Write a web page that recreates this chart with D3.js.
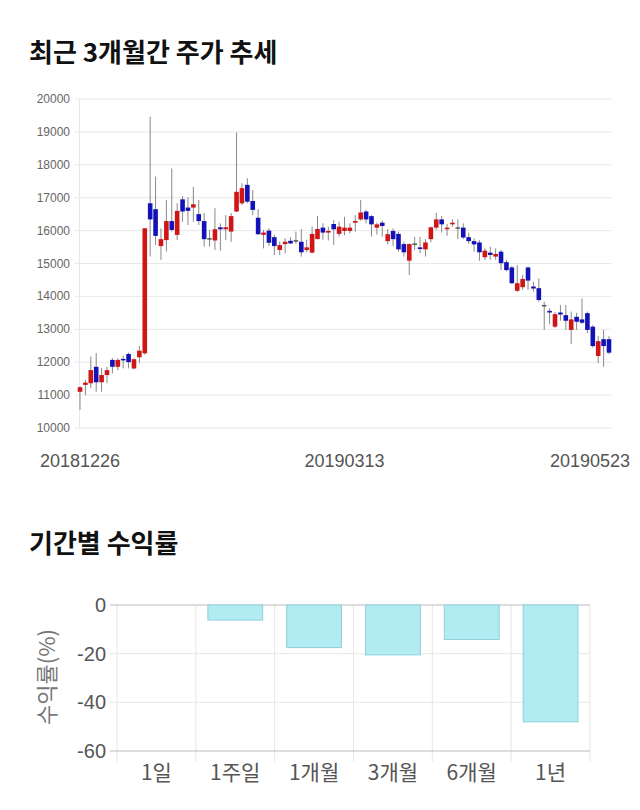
<!DOCTYPE html>
<html>
<head>
<meta charset="utf-8">
<script src="https://cdn.jsdelivr.net/npm/d3@7"></script>
<style>
  body { margin: 0; background: #fff; }
  text { font-family: "Liberation Sans", Arial, sans-serif; }
  .title { font-family: "Noto Sans CJK KR", sans-serif; font-weight: bold; }
  .kr { font-family: "Noto Sans CJK KR", "Liberation Sans", sans-serif; }
</style>
</head>
<body>
<script>
// 최근 3개월 시세 (시가, 고가, 저가, 종가)
const opens = [11100,11310,11360,11860,11390,11610,12070,11860,12100,12250,11810,12150,12270,16830,16650,15530,15710,16290,15870,16950,
  16700,16700,16500,16290,15770,15700,16100,16040,15970,16580,16830,17390,16900,16390,15870,16000,15800,15410,15590,15690,
  15710,15660,15410,15330,15740,16090,15940,16200,15900,15990,15990,16240,16340,16580,16440,16090,16240,15680,15990,15900,
  15590,15085,15610,15490,15430,15740,16090,16340,16040,16190,16100,16090,15800,15680,15640,15190,15330,15210,15360,15040,
  14880,14170,14280,14880,14300,14250,13740,13560,13080,13510,13430,12980,13380,13300,13490,13080,12190,12700,12700];
const highs = [11270,11460,12170,12280,11820,11860,12120,12120,12200,12290,12120,12490,16070,19460,17640,16070,16930,17890,16830,17050,
  17010,17330,16930,16530,16020,16680,16220,16470,16530,18980,17440,17590,17230,16650,16020,16070,15870,15660,15770,15800,
  15970,16040,15720,16120,16440,16220,16120,16320,16270,16420,16220,16470,16930,16630,16470,16240,16300,16040,16070,15970,
  15660,15610,15810,15810,15740,16120,16540,16440,16200,16340,16340,16220,15940,15760,15710,15460,15510,15460,15410,15110,
  14930,14950,14660,14900,14450,14550,13840,13640,13530,13740,13740,13540,13500,13940,13540,13130,12800,12980,12790];
const lows = [10550,11000,11210,11100,11100,11360,11660,11760,11810,11810,11780,11970,12230,15210,15560,15110,15360,15970,15710,16270,
  16170,16270,16170,15510,15510,15410,15390,15710,15660,16560,16780,16830,16470,15870,15460,15530,15260,15260,15310,15600,
  15600,15210,15340,15310,15740,15720,15700,15560,15820,15860,15920,15970,16300,16220,15820,15880,15820,15580,15530,15360,
  15210,14650,15410,15310,15210,15640,16020,15940,15840,16120,15740,15740,15600,15360,15085,15110,15110,15110,14800,14760,
  14370,14140,14200,14200,14140,13840,12980,13160,13040,13260,12980,12550,12980,13160,12880,12440,11970,11860,12240];
const closes = [11240,11380,11760,11390,11610,11760,11860,12070,12070,12000,12090,12350,16070,16340,15840,15740,16290,16020,16600,16580,
  16600,16800,16290,15740,15770,16040,16040,16100,16440,17180,17290,16880,16630,15890,15940,15630,15530,15560,15660,15610,
  15710,15340,15490,15900,16050,15940,15990,16040,16120,16090,16090,16290,16550,16340,16190,16190,16140,15890,15740,15430,
  15340,15590,15610,15440,15640,16100,16340,16190,16090,16240,16100,15790,15680,15580,15340,15390,15260,15290,15010,14800,
  14400,14400,14530,14480,14240,13890,13740,13510,13460,13450,13260,13300,13230,13200,12980,12490,12640,12490,12290];
const priceTicks = [10000,11000,12000,13000,14000,15000,16000,17000,18000,19000,20000];
const dateLabels = [{i: 0, t: "20181226"}, {i: 49, t: "20190313"}, {i: 98, t: "20190523"}];

// 기간별 수익률
const periods = ["1일","1주일","1개월","3개월","6개월","1년"];
const returns = [0, -6.2, -17.5, -20.5, -14.2, -48];
const returnTicks = [0, -20, -40, -60];

const W = 640, H = 810;
const svg = d3.select("body").append("svg")
  .attr("width", W).attr("height", H);

// ---------- 주가 추세 ----------
svg.append("text").attr("class", "title")
  .attr("x", 29).attr("y", 62)
  .attr("font-size", 26).attr("fill", "#111")
  .text("최근 3개월간 주가 추세");

const candles = opens.map((o, i) => ({i, o, h: highs[i], l: lows[i], c: closes[i]}));

const x = d3.scaleLinear().domain([0, candles.length - 1]).range([80, 609]);
const y = d3.scaleLinear().domain([10000, 20000]).range([428, 99]);

const priceG = svg.append("g");
priceG.selectAll("line.grid").data(priceTicks).join("line")
  .attr("class", "grid")
  .attr("x1", 75).attr("x2", 611)
  .attr("y1", d => y(d)).attr("y2", d => y(d))
  .attr("stroke", "#e8e8e8").attr("stroke-width", 1);
priceG.append("line")
  .attr("x1", 79.5).attr("x2", 79.5).attr("y1", y(20000)).attr("y2", y(10000))
  .attr("stroke", "#e8e8e8");

priceG.selectAll("text.ytick").data(priceTicks).join("text")
  .attr("class", "ytick")
  .attr("x", 70).attr("y", d => y(d) + 4)
  .attr("text-anchor", "end")
  .attr("font-size", 12).attr("fill", "#666")
  .text(d => d);

priceG.selectAll("text.xtick").data(dateLabels).join("text")
  .attr("class", "xtick")
  .attr("x", d => Math.min(x(d.i), 590)).attr("y", 467)
  .attr("text-anchor", "middle")
  .attr("font-size", 18).attr("fill", "#555")
  .text(d => d.t);

const colorOf = d => d.c > d.o ? "#d01515" : (d.c < d.o ? "#1212b8" : "#555");

const cg = priceG.selectAll("g.candle").data(candles).join("g").attr("class", "candle");
cg.append("line")
  .attr("x1", d => x(d.i)).attr("x2", d => x(d.i))
  .attr("y1", d => y(d.h)).attr("y2", d => y(d.l))
  .attr("stroke", "#888").attr("stroke-width", 1);
cg.append("rect")
  .attr("x", d => x(d.i) - 2.3).attr("width", 4.6)
  .attr("y", d => y(Math.max(d.o, d.c)))
  .attr("height", d => Math.max(1.5, Math.abs(y(d.o) - y(d.c))))
  .attr("fill", colorOf);

// ---------- 기간별 수익률 ----------
svg.append("text").attr("class", "title")
  .attr("x", 29).attr("y", 553)
  .attr("font-size", 26).attr("fill", "#111")
  .text("기간별 수익률");

const bx = d3.scaleBand().domain(periods).range([117, 590]);
const by = d3.scaleLinear().domain([-60, 0]).range([751, 605]);
const step = bx.step();

const retG = svg.append("g");
// 세로 격자
retG.selectAll("line.vgrid").data(d3.range(periods.length + 1)).join("line")
  .attr("class", "vgrid")
  .attr("x1", d => 117 + d * step).attr("x2", d => 117 + d * step)
  .attr("y1", 605).attr("y2", 762)
  .attr("stroke", "#e6e6e6");
// 가로 격자
retG.selectAll("line.hgrid").data(returnTicks).join("line")
  .attr("class", "hgrid")
  .attr("x1", 110).attr("x2", 590)
  .attr("y1", d => by(d)).attr("y2", d => by(d))
  .attr("stroke", d => (d === 0 || d === -60) ? "#bbb" : "#e6e6e6");

retG.selectAll("text.ry").data(returnTicks).join("text")
  .attr("class", "ry")
  .attr("x", 106).attr("y", d => by(d) + 7)
  .attr("text-anchor", "end")
  .attr("font-size", 20).attr("fill", "#555")
  .text(d => d);

retG.selectAll("rect.bar").data(periods).join("rect")
  .attr("class", "bar")
  .attr("x", d => bx(d) + 12)
  .attr("width", step - 24)
  .attr("y", by(0))
  .attr("height", (d, i) => by(returns[i]) - by(0))
  .attr("fill", "#b2ebf2").attr("stroke", "#8fd0dc").attr("stroke-width", 1)
  .style("display", (d, i) => returns[i] === 0 ? "none" : null);

retG.selectAll("text.rx").data(periods).join("text")
  .attr("class", "rx kr")
  .attr("x", d => bx(d) + step / 2).attr("y", 780)
  .attr("text-anchor", "middle")
  .attr("font-size", 21).attr("fill", "#555")
  .text(d => d);

svg.append("text").attr("class", "kr")
  .attr("transform", "translate(55,677) rotate(-90)")
  .attr("text-anchor", "middle")
  .attr("font-size", 22).attr("fill", "#777")
  .text("수익률(%)");
</script>
</body>
</html>
